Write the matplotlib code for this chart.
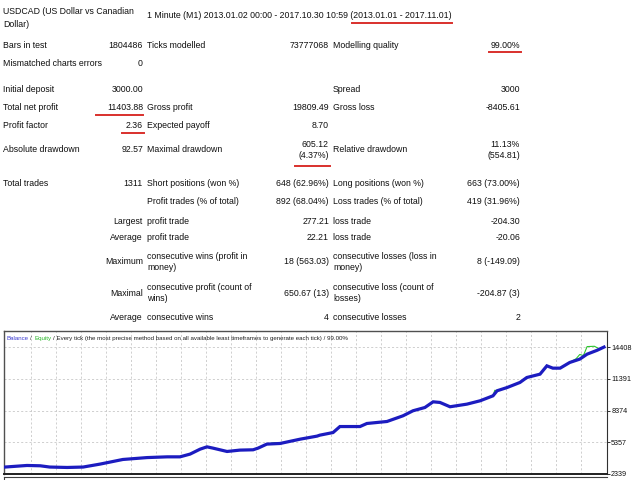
import matplotlib
matplotlib.use("Agg")
import matplotlib.pyplot as plt
from matplotlib.lines import Line2D
import numpy as np

plt.rcParams['font.family'] = ['Liberation Sans', 'DejaVu Sans']

# ---------------- data ----------------
balance_trades = [0, 48, 77, 98, 136, 171, 208, 258, 311, 355, 383, 405, 427, 442, 455, 486,
                  514, 543, 554, 573, 602, 646, 683, 689, 718, 733, 777, 792, 836, 871, 893,
                  919, 937, 952, 974, 1011, 1040, 1068, 1077, 1099, 1127, 1142, 1171, 1186,
                  1199, 1215, 1236, 1258, 1274, 1296, 1311]
balance_values = [3000, 3150, 3120, 3000, 2960, 3000, 3280, 3720, 3900, 3970, 3970, 4230, 4700,
                  4920, 4800, 4480, 4610, 4640, 4800, 5180, 5240, 5650, 5940, 6030, 6280, 6850,
                  6850, 7140, 7330, 7870, 8350, 8660, 9200, 9140, 8730, 8980, 9300, 9770, 10250,
                  10560, 11040, 11510, 11830, 12620, 12400, 12400, 12940, 13260, 13730, 14100,
                  14404]
equity_trades = [0, 48, 77, 98, 136, 171, 208, 258, 311, 355, 383, 405, 427, 442, 455, 486,
                 514, 543, 554, 573, 590, 602, 646, 683, 689, 718, 733, 777, 792, 836, 850, 865,
                 871, 893, 919, 937, 952, 974, 1011, 1040, 1068, 1072, 1077, 1099, 1127, 1142,
                 1171, 1186, 1199, 1215, 1236, 1250, 1258, 1266, 1274, 1290, 1300, 1311]
equity_values = [3000, 3150, 3120, 3000, 2960, 3000, 3280, 3720, 3900, 3970, 3970, 4230, 4700,
                 4920, 4800, 4480, 4610, 4640, 4800, 5180, 5320, 5240, 5650, 5940, 6030, 6280,
                 6850, 6850, 7140, 7330, 7560, 7800, 7870, 8350, 8660, 9200, 9140, 8730, 8980,
                 9300, 9770, 10300, 10250, 10560, 11040, 11510, 11830, 12620, 12400, 12400,
                 12940, 13300, 13700, 13600, 14450, 14480, 14250, 14404]
y_ticks = [2339, 5357, 8374, 11391, 14408]

# report rows: (y px, col1 label, col1 value, col2 label, col2 value, col3 label, col3 value)
rows = [
    (45, "Bars in test", "1804486", "Ticks modelled", "73777068", "Modelling quality", "99.00%"),
    (63, "Mismatched charts errors", "0", "", "", "", ""),
    (90, "Initial deposit", "3000.00", "", "", "Spread", "3000"),
    (107, "Total net profit", "11403.88", "Gross profit", "19809.49", "Gross loss", "-8405.61"),
    (126, "Profit factor", "2.36", "Expected payoff", "8.70", "", ""),
    (150, "Absolute drawdown", "92.57", "Maximal drawdown", "605.12\n(4.37%)",
     "Relative drawdown", "11.13%\n(554.81)"),
    (184, "Total trades", "1311", "Short positions (won %)", "648 (62.96%)",
     "Long positions (won %)", "663 (73.00%)"),
    (202, "", "", "Profit trades (% of total)", "892 (68.04%)",
     "Loss trades (% of total)", "419 (31.96%)"),
]
rows_right = [
    (221, "Largest", "profit trade", "277.21", "loss trade", "-204.30"),
    (238, "Average", "profit trade", "22.21", "loss trade", "-20.06"),
    (262, "Maximum", "consecutive wins (profit in\nmoney)", "18 (563.03)",
     "consecutive losses (loss in\nmoney)", "8 (-149.09)"),
    (293, "Maximal", "consecutive profit (count of\nwins)", "650.67 (13)",
     "consecutive loss (count of\nlosses)", "-204.87 (3)"),
    (318, "Average", "consecutive wins", "4", "consecutive losses", "2"),
]

W, H = 640, 480
fig = plt.figure(figsize=(6.4, 4.8), dpi=100)
fig.patch.set_facecolor('white')
FS = 6.35

def T(x, y, s, ha='left', fs=FS, ls=1.35, **kw):
    fig.text(x / W, 1 - y / H, s, ha=ha, va='center', fontsize=fs, color='#101010',
             linespacing=ls, **kw)

def U(x0, x1, y, color='#d9302c', lw=1.4):
    fig.add_artist(Line2D([x0 / W, x1 / W], [1 - y / H, 1 - y / H], color=color, lw=lw))

C1L, C1R, C2L, C2R, C3L, C3R = 3, 143, 147, 329, 333, 520

T(C1L, 18, "USDCAD (US Dollar vs Canadian\nDollar)", ls=1.5)
T(C2L, 15, "1 Minute (M1) 2013.01.02 00:00 - 2017.10.30 10:59 (2013.01.01 - 2017.11.01)")

for y, a, av, b, bv, c, cv in rows:
    if a: T(C1L, y, a)
    if av: T(C1R, y, av, ha='right')
    if b: T(C2L, y, b)
    if bv: T(C2R, y, bv, ha='right', multialignment='right')
    if c: T(C3L, y, c)
    if cv: T(C3R, y, cv, ha='right', multialignment='right')

for y, a, b, bv, c, cv in rows_right:
    T(C1R, y, a, ha='right')
    T(C2L, y, b)
    T(C2R, y, bv, ha='right')
    T(C3L, y, c)
    T(C3R, y, cv, ha='right')

# red underlines
U(352, 452, 23)
U(489, 521, 52)
U(96, 143, 115)
U(122, 144, 133)
U(295, 330, 166)

# ---------------- chart ----------------
ax_l, ax_r, ax_t, ax_b = 4, 607, 331, 474
ax = fig.add_axes([ax_l / W, 1 - ax_b / H, (ax_r - ax_l) / W, (ax_b - ax_t) / H])
ax.set_facecolor('white')

step = y_ticks[1] - y_ticks[0]
ymin = y_ticks[0]
ymax = y_ticks[0] + step * (ax_b - ax_t) / ((ax_b - 347) / 4)
ax.set_ylim(ymin, ymax)
ntr = balance_trades[-1]
px_per_trade = 599 / ntr
ax.set_xlim(-1 / px_per_trade, ntr + 3 / px_per_trade)

ax.plot(equity_trades, equity_values, color='#2ec62e', lw=0.8, zorder=2)
ax.plot(balance_trades, balance_values, color='#1c1cc0', lw=2.3, zorder=3,
        solid_joinstyle='miter')

ax.yaxis.tick_right()
ax.set_yticks(y_ticks)
ax.set_yticklabels([str(v) for v in y_ticks], fontsize=5.2)
ax.tick_params(axis='y', length=2, width=0.6, pad=1, colors='#101010')
xt = np.arange(26 / px_per_trade, ntr, 25 / px_per_trade)
ax.set_xticks(xt)
ax.tick_params(axis='x', length=0, labelbottom=False)
ax.grid(True, color='#c8c8c8', ls=(0, (2.5, 2.5)), lw=0.6)
for s in ['left', 'top']:
    ax.spines[s].set_color('#505050')
    ax.spines[s].set_linewidth(1.0)
ax.spines['right'].set_color('#303030')
ax.spines['right'].set_linewidth(0.8)
ax.spines['bottom'].set_color('#202020')
ax.spines['bottom'].set_linewidth(1.4)

TFS = 4.4
ax.text(0.004, 0.945, "Balance", transform=ax.transAxes, fontsize=TFS, color='#3a3ad0', va='center')
ax.text(0.043, 0.945, "/", transform=ax.transAxes, fontsize=TFS, color='#303030', va='center')
ax.text(0.050, 0.945, "Equity", transform=ax.transAxes, fontsize=TFS, color='#22b522', va='center')
ax.text(0.081, 0.945,
        "/ Every tick (the most precise method based on all available least timeframes to generate each tick) / 99.00%",
        transform=ax.transAxes, fontsize=TFS, color='#202020', va='center')

# lower (cut-off) panel
fig.add_artist(Line2D([ax_l / W, ax_r / W], [1 - 476.5 / H, 1 - 476.5 / H], color='#404040', lw=0.8))
fig.add_artist(Line2D([ax_l / W, ax_l / W], [0, 1 - 476.5 / H], color='#404040', lw=0.8))

fig.savefig("out.png", dpi=100)
